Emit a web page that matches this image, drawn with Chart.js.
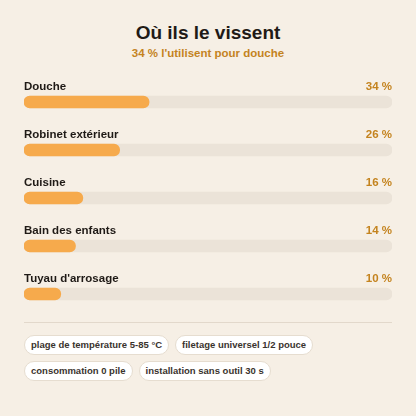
<!DOCTYPE html>
<html><head><meta charset="utf-8">
<script src="https://cdn.jsdelivr.net/npm/chart.js@4"></script>
<style>
html,body{margin:0;padding:0;width:416px;height:416px;background:#f6efe5;font-family:"Liberation Sans",Arial,sans-serif;overflow:hidden;position:relative}
#t{position:absolute;top:22px;left:0;width:416px;text-align:center;font-weight:bold;font-size:19px;color:#1f1a16}
#s{position:absolute;top:47px;left:0;width:416px;text-align:center;font-weight:bold;font-size:11.5px;color:#c4831e}
#w{position:absolute;left:24px;top:78px;width:368px;height:240px}
#hr{position:absolute;left:24px;top:322px;width:368px;height:1px;background:#e2d8cb}
#chips{position:absolute;left:24px;top:334px;width:368px}
.c{display:inline-block;background:#fff;border:1px solid #e6ddd0;border-radius:10px;font-size:9.5px;font-weight:bold;color:#3a332d;padding:2px 6px;margin:0 6px 5px 0;line-height:14px}
</style></head><body>
<div id="t">Où ils le vissent</div>
<div id="s">34 % l'utilisent pour douche</div>
<div id="w"><canvas id="c"></canvas></div>
<div id="hr"></div>
<div id="chips"></div>
<script>
const categories=["Douche","Robinet extérieur","Cuisine","Bain des enfants","Tuyau d'arrosage"];
const values=[34,26,16,14,10];
const chipsText=["plage de température 5-85 °C","filetage universel 1/2 pouce","consommation 0 pile","installation sans outil 30 s"];
document.getElementById('chips').innerHTML=chipsText.map(t=>'<span class="c">'+t+'</span>').join('');
const labelsPlugin={id:'lbl',afterDatasetsDraw(ch){
  const ctx=ch.ctx,meta=ch.getDatasetMeta(1),a=ch.chartArea;
  ctx.save();ctx.textBaseline='middle';ctx.font='bold 11.5px "Liberation Sans", Arial, sans-serif';
  meta.data.forEach((b,i)=>{const y=b.y-15;
    ctx.fillStyle='#1f1a16';ctx.textAlign='left';ctx.fillText(categories[i],a.left,y);
    ctx.fillStyle='#c4831e';ctx.textAlign='right';ctx.fillText(values[i]+' %',a.right,y);});
  ctx.restore();}};
new Chart(document.getElementById('c'),{type:'bar',
 data:{labels:categories,datasets:[
  {data:categories.map(()=>100),backgroundColor:'#ebe3d8',barThickness:12,borderRadius:6,borderSkipped:false,order:2},
  {data:values,backgroundColor:'#f6aa4c',barThickness:12,borderRadius:6,borderSkipped:false,order:1}]},
 options:{indexAxis:'y',responsive:true,maintainAspectRatio:false,animation:false,
  layout:{padding:0},
  plugins:{legend:{display:false},tooltip:{enabled:false}},
  scales:{x:{display:false,min:0,max:100,stacked:false},y:{display:false,stacked:true}}},
 plugins:[labelsPlugin]});
</script></body></html>
